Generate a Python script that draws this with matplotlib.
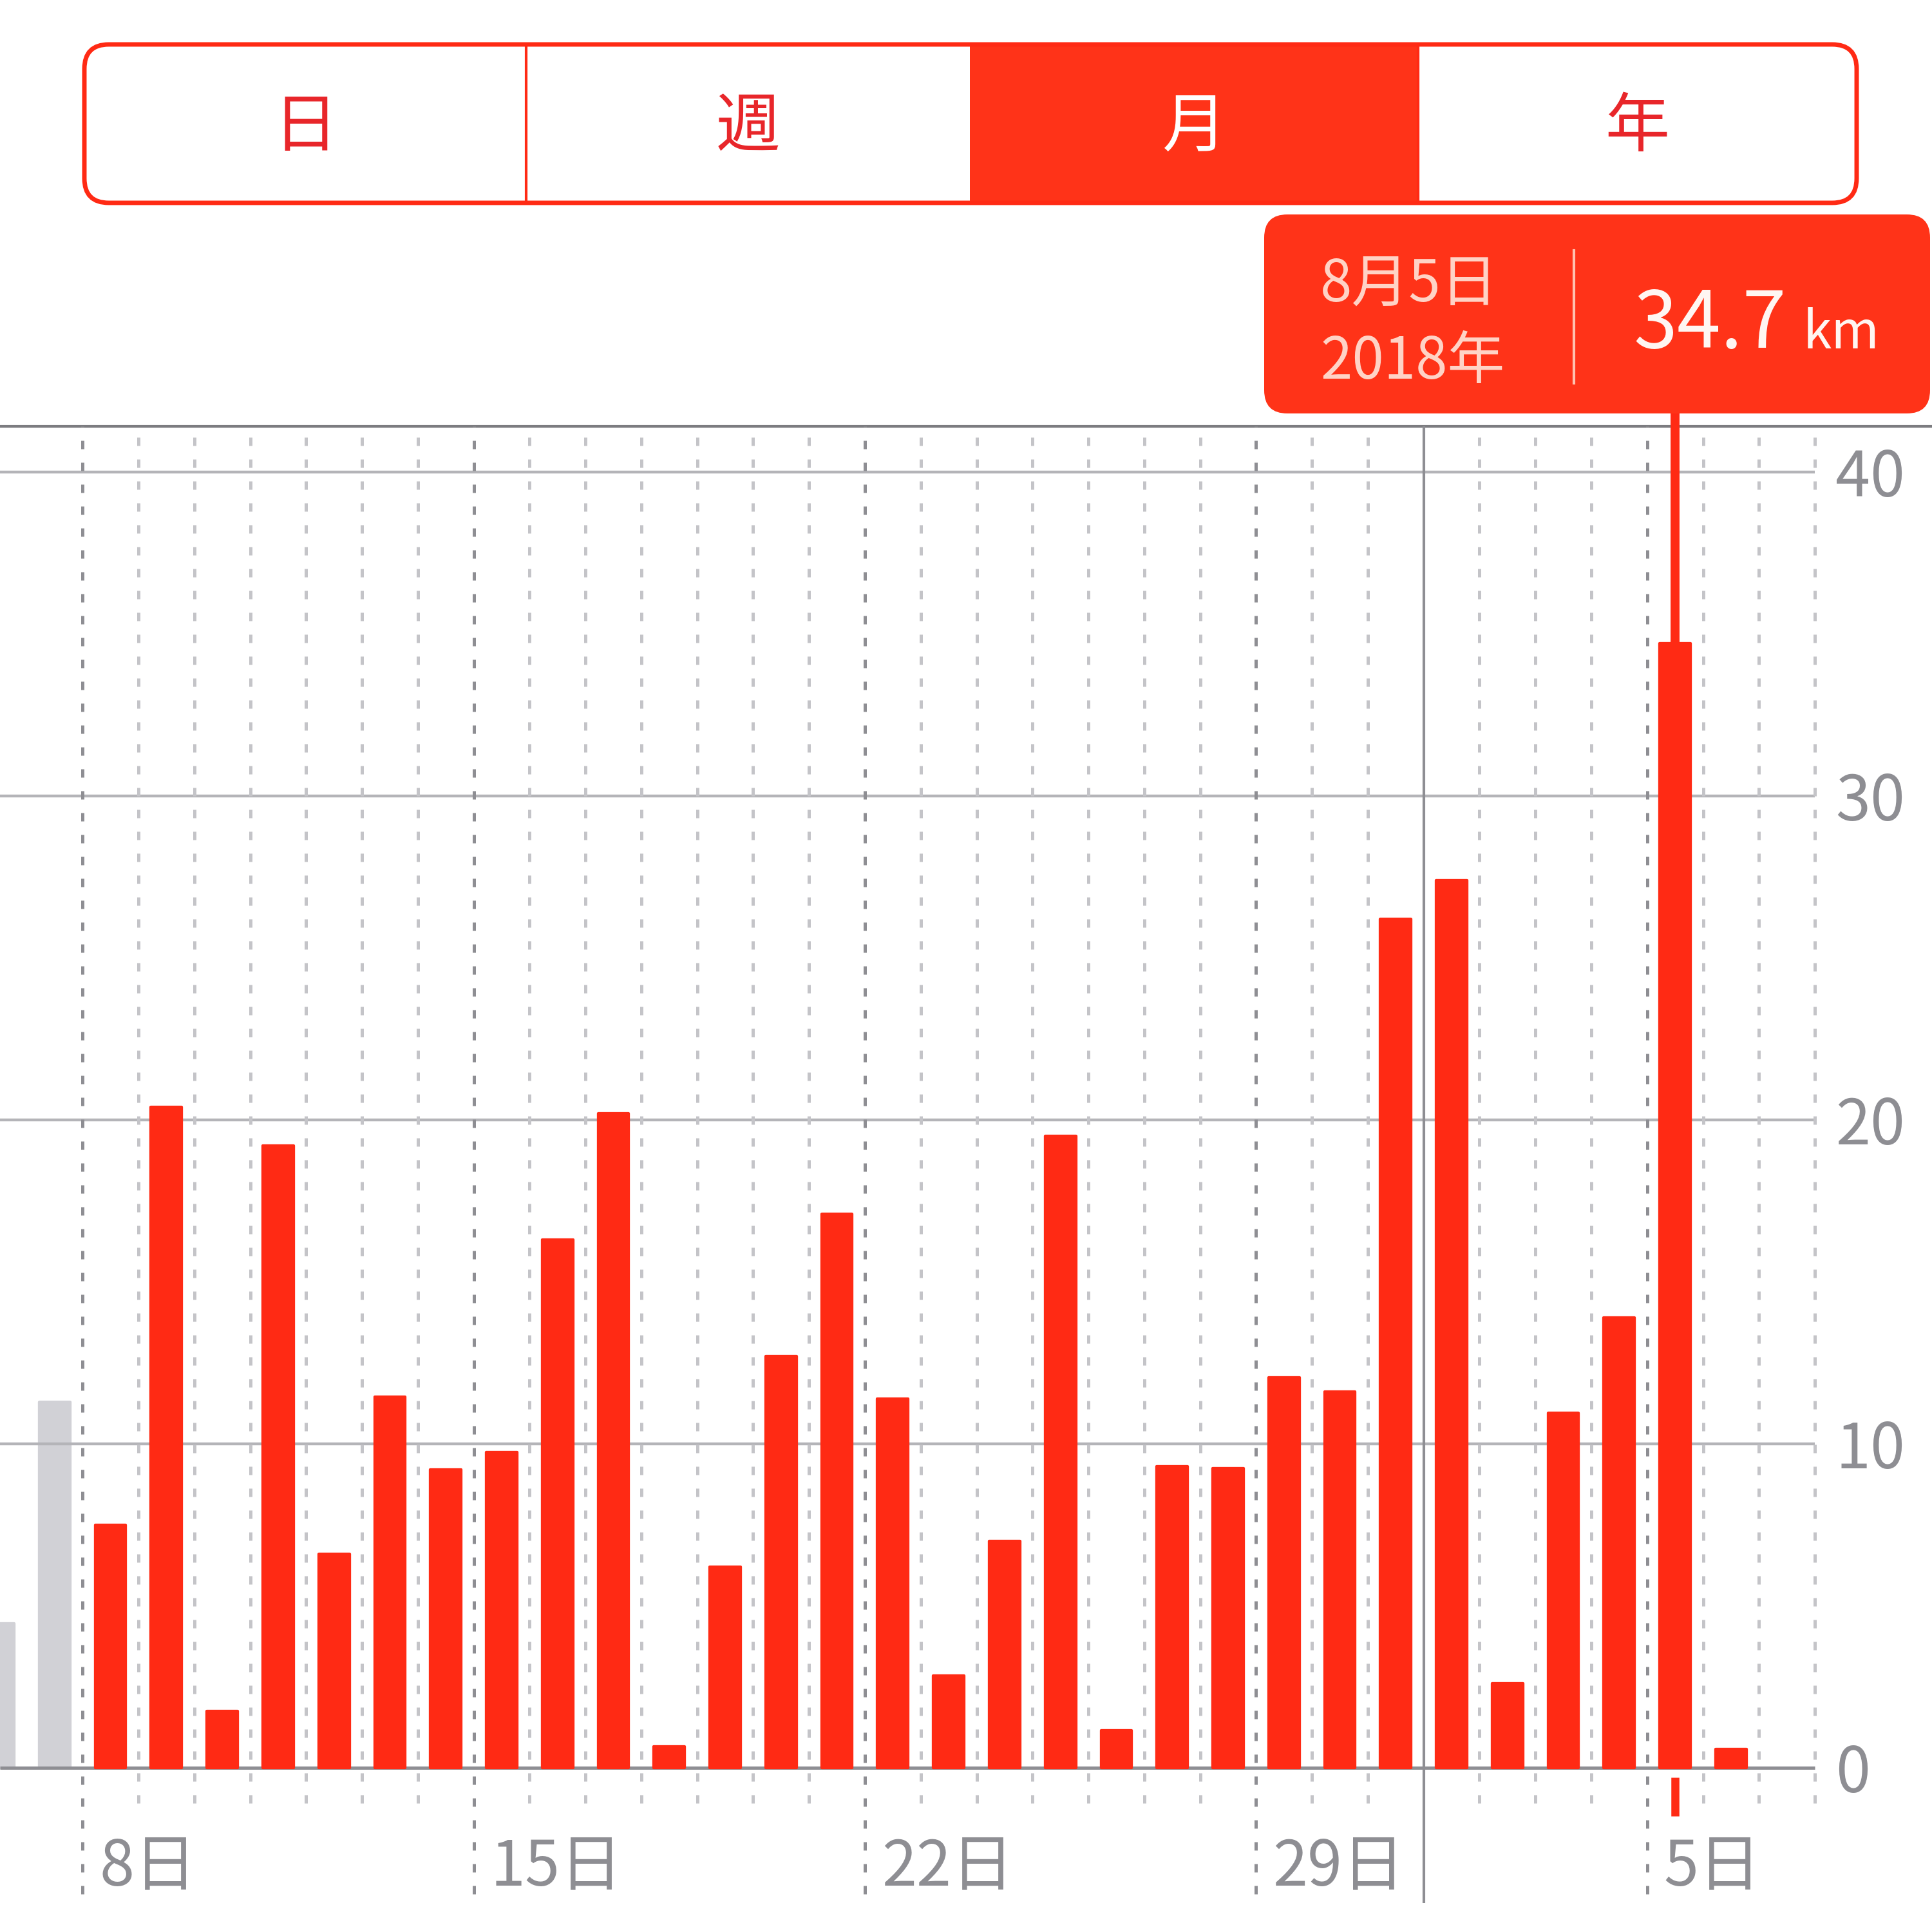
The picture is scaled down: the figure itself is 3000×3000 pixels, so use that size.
import numpy as np
import matplotlib.pyplot as plt
from matplotlib.patches import FancyBboxPatch, Rectangle

plt.rcParams['font.family'] = ['Noto Sans CJK JP', 'DejaVu Sans']

# ---- data (km per day) ----
prev_days = [6, 7]                      # July 6-7, outside the selected month (grey)
prev_km = [4.45, 11.3]
jul_days = list(range(8, 32))           # July 8 - 31
jul_km = [7.5, 20.4, 1.75, 19.2, 6.6, 11.45, 9.2, 9.75, 16.3, 20.2, 0.65, 6.2,
          12.7, 17.1, 11.4, 2.85, 7.0, 19.5, 1.15, 9.3, 9.25, 12.05, 11.6, 26.2]
aug_days = list(range(1, 7))            # Aug 1 - 6
aug_km = [27.4, 2.6, 10.95, 13.9, 34.7, 0.57]

tick_labels = ['8日', '15日', '22日', '29日', '5日']
y_ticks = [0, 10, 20, 30, 40]
segments = ['日', '週', '月', '年']
selected = '月'
tip_date = '8月5日'
tip_year = '2018年'
tip_value = '34.7'
tip_unit = 'km'

RED = '#FF2A14'
TIP_RED = '#FF3318'
GREY_TXT = '#8E8E93'

days = prev_days + jul_days + aug_days
km = prev_km + jul_km + aug_km
pos = np.arange(len(days))
n_prev = len(prev_days)
aug1 = n_prev + len(jul_days)
sel = aug1 + aug_days.index(5)

fig = plt.figure(figsize=(30, 30), dpi=100)
ax = fig.add_axes([0, 0, 1, 1])
ax.set_xlim(0.0225, 34.597)
ax.set_ylim(-5.07, 54.57)
ax.axis('off')

top_y = 41.41
right_x = len(days) + 0.5

# grey bars of the previous period
ax.bar(pos[:n_prev], km[:n_prev], width=0.55, color='#D1D1D6', ec='#D1D1D6',
       lw=3.1, joinstyle='round', zorder=1)

# horizontal grid
ax.hlines(y_ticks[1:], 0.0225, right_x, color='#B4B4B8', lw=3.2, zorder=2)
ax.hlines(0, 0.0225, right_x, color='#8E8E93', lw=3.6, zorder=2)
ax.axhline(top_y, color='#7C7C80', lw=3, zorder=2)

# vertical day boundaries
bounds = np.arange(n_prev, len(days) + 2) - 0.5
major = [pos[n_prev + jul_days.index(d)] - 0.5 for d in (8, 15, 22, 29)] + [sel - 0.5]
for b in bounds:
    if b == aug1 - 0.5:
        continue
    if b in major:
        ax.vlines(b, -3.9, top_y, color='#8E8E93', lw=3.6,
                  linestyles=(0, (2.6, 4.2)), zorder=2)
    else:
        ax.vlines(b, -1.1, top_y, color='#C4C4C8', lw=3.6,
                  linestyles=(0, (2.6, 4.2)), zorder=2)
ax.vlines(aug1 - 0.5, -4.17, top_y, color='#8E8E93', lw=3, zorder=2)

# red bars
ax.bar(pos[n_prev:], km[n_prev:], width=0.55, color=RED, ec=RED, lw=3.1,
       joinstyle='round', zorder=3)

# selection marker
ax.vlines(pos[sel], km[sel], 41.83, color=RED, lw=10, zorder=4)
ax.vlines(pos[sel], -0.3, -1.5, color=RED, lw=9, zorder=4)

# axis labels
for v in y_ticks:
    ax.text(32.87, v - 0.2, str(v), ha='left', va='center', fontsize=70, color=GREY_TXT)
for lab, d, month in zip(tick_labels, [8, 15, 22, 29, 5], ['jul'] * 4 + ['aug']):
    i = n_prev + jul_days.index(d) if month == 'jul' else aug1 + aug_days.index(d)
    ax.text(i - 0.5 + 0.3, -3.08, lab, ha='left', va='center', fontsize=70, color=GREY_TXT)

# ---- overlay in pixel coordinates ----
ov = fig.add_axes([0, 0, 1, 1], facecolor='none')
ov.set_xlim(0, 3000)
ov.set_ylim(3000, 0)
ov.axis('off')

# segmented control
ov.add_patch(FancyBboxPatch((131, 69), 2752, 246, boxstyle='round,pad=0,rounding_size=38',
                            fc='white', ec='none'))
edges = [131, 817, 1506, 2202, 2883]
for k, s in enumerate(segments):
    if s == selected:
        ov.add_patch(Rectangle((edges[k], 69), edges[k + 1] - edges[k], 246, fc=TIP_RED, ec='none'))
for e in (817, 2202):
    ov.plot([e, e], [69, 315], color=RED, lw=3)
ov.add_patch(FancyBboxPatch((131, 69), 2752, 246, boxstyle='round,pad=0,rounding_size=38',
                            fc='none', ec=RED, lw=5))
for k, s in enumerate(segments):
    cx = (edges[k] + edges[k + 1]) / 2
    ov.text(cx, 198, s, ha='center', va='center', fontsize=72,
            color='white' if s == selected else '#E8262A')

# tooltip
ov.add_patch(FancyBboxPatch((1963, 333), 1034, 309, boxstyle='round,pad=0,rounding_size=36',
                            fc=TIP_RED, ec='none'))
ov.text(2050, 442, tip_date, ha='left', va='center', fontsize=64, color='#FFD3C6')
ov.text(2050, 563, tip_year, ha='left', va='center', fontsize=64, color='#FFD3C6')
ov.plot([2444, 2444], [389, 595], color='#FFC2B0', lw=3)
ov.text(2536, 505, tip_value, ha='left', va='center', fontsize=88, color='#FFF6F2')
ov.text(2800, 518, tip_unit, ha='left', va='center', fontsize=58, color='#FFF6F2')

fig.savefig('out.png', dpi=100, facecolor='white')
